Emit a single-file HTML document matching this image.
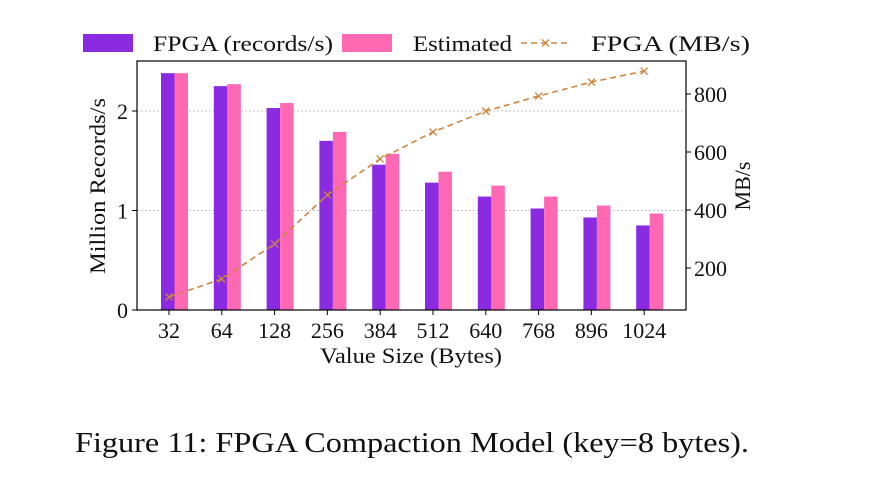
<!DOCTYPE html>
<html><head><meta charset="utf-8"><style>
body{margin:0;background:#fff;width:872px;height:486px;overflow:hidden}
text{font-family:"Liberation Serif",serif;fill:#111}
</style></head><body>
<svg id="chart" width="872" height="486">
<g id="g"></g>
<text x="75" y="452" font-size="29" textLength="674" lengthAdjust="spacingAndGlyphs">Figure 11: FPGA Compaction Model (key=8 bytes).</text>
</svg>
<script>
const categories=["32","64","128","256","384","512","640","768","896","1024"];
const fpgaRecords=[2.38,2.25,2.03,1.70,1.46,1.28,1.14,1.02,0.93,0.85];
const estimated=[2.38,2.27,2.08,1.79,1.57,1.39,1.25,1.14,1.05,0.97];
const fpgaMB=[100,162,283,452,576,669,741,793,841,879];
const leftTicks=[0,1,2];
const rightTicks=[200,400,600,800];
const NS="http://www.w3.org/2000/svg";
const g=document.getElementById('g');
const L=137,R=686,T=61,B=310;
const yL=v=>B-v*99.5;
const yR=v=>326-v*0.29;
const xC=i=>169+i*52.8;
function mk(t,a,txt){const e=document.createElementNS(NS,t);for(const k in a)e.setAttribute(k,a[k]);if(txt!==undefined)e.textContent=txt;g.appendChild(e);return e;}
leftTicks.forEach(v=>{if(v>0){const e=mk('line',{x1:L,x2:R,y1:yL(v),y2:yL(v),stroke:'#aaa','stroke-width':0.8,'stroke-dasharray':'2,2'});

}});
categories.forEach((c,i)=>{
const b1=mk('rect',{x:xC(i)-8,y:yL(fpgaRecords[i]),width:13.5,height:B-yL(fpgaRecords[i]),fill:'#8a2be2'});


const b2=mk('rect',{x:xC(i)+5.5,y:yL(estimated[i]),width:13.5,height:B-yL(estimated[i]),fill:'#ff69b4'});


const t=mk('text',{x:xC(i),y:B+28,'font-size':22,'text-anchor':'middle'},c);


mk('line',{x1:xC(i),x2:xC(i),y1:B,y2:B+5,stroke:'#000'});
});
const pts=fpgaMB.map((v,i)=>xC(i)+','+yR(v)).join(' ');
const pl=mk('polyline',{points:pts,fill:'none',stroke:'#cd853f','stroke-width':1.6,'stroke-dasharray':'6,4'});


fpgaMB.forEach((v,i)=>{const x=xC(i),y=yR(v);
const m=mk('path',{d:`M${x-3.5},${y-3.5}L${x+3.5},${y+3.5}M${x-3.5},${y+3.5}L${x+3.5},${y-3.5}`,stroke:'#cd853f','stroke-width':1.3});

});
const fr=mk('rect',{x:L,y:T,width:R-L,height:B-T,fill:'none',stroke:'#000','stroke-width':1.2});


leftTicks.forEach(v=>{mk('line',{x1:L-5,x2:L,y1:yL(v),y2:yL(v),stroke:'#000'});
const t=mk('text',{x:L-9,y:yL(v)+8,'font-size':22,'text-anchor':'end'},String(v));

});
rightTicks.forEach(v=>{mk('line',{x1:R,x2:R+5,y1:yR(v),y2:yR(v),stroke:'#000'});
const t=mk('text',{x:R+8,y:yR(v)+8,'font-size':22},String(v));

});
let t=mk('text',{x:0,y:0,'font-size':22,'text-anchor':'middle',textLength:176,lengthAdjust:'spacingAndGlyphs',transform:'translate(105,186) rotate(-90)'},'Million Records/s');


t=mk('text',{x:0,y:0,'font-size':22,'text-anchor':'middle',transform:'translate(750,186) rotate(-90)'},'MB/s');


t=mk('text',{x:320,y:363,'font-size':22,textLength:182,lengthAdjust:'spacingAndGlyphs'},'Value Size (Bytes)');


let e=mk('rect',{x:83,y:34,width:50,height:18,fill:'#8a2be2'});


t=mk('text',{x:153,y:51,'font-size':22,textLength:180,lengthAdjust:'spacingAndGlyphs'},'FPGA (records/s)');


e=mk('rect',{x:342,y:34,width:50,height:18,fill:'#ff69b4'});


t=mk('text',{x:413,y:51,'font-size':22,textLength:99,lengthAdjust:'spacingAndGlyphs'},'Estimated');


mk('line',{x1:521,x2:570,y1:43,y2:43,stroke:'#cd853f','stroke-width':1.6,'stroke-dasharray':'6,4'});
mk('path',{d:'M542,39.5L549,46.5M542,46.5L549,39.5',stroke:'#cd853f','stroke-width':1.3});
t=mk('text',{x:591,y:51,'font-size':22,textLength:159,lengthAdjust:'spacingAndGlyphs'},'FPGA (MB/s)');


</script>
</body></html>
